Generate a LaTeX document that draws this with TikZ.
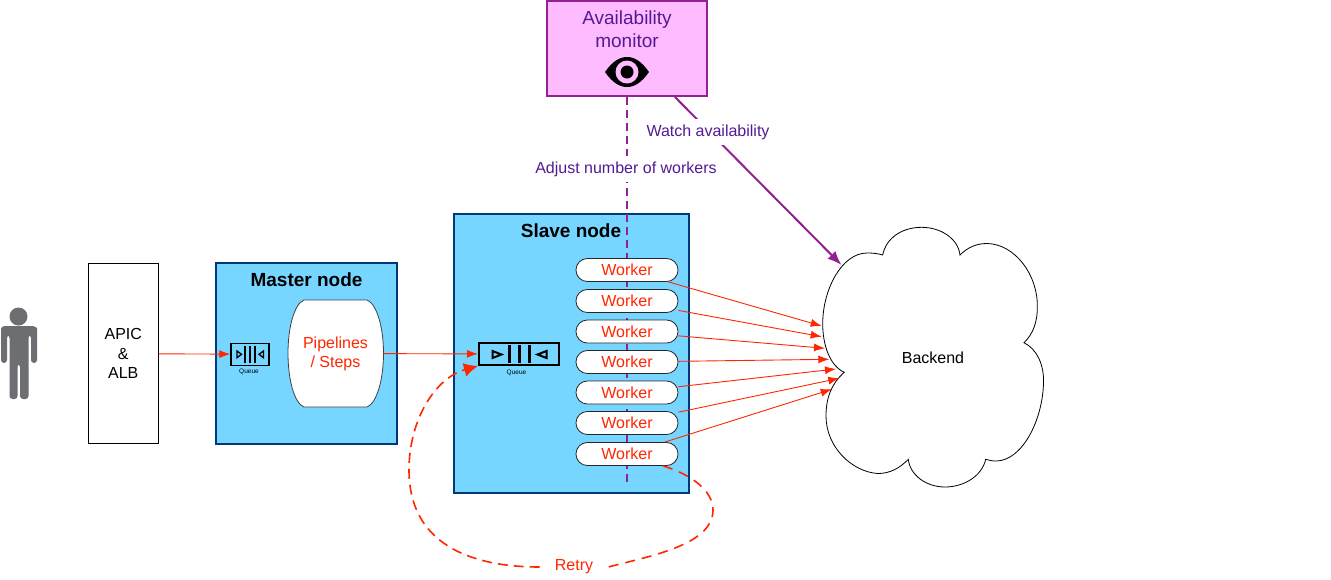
\documentclass[tikz,border=0pt]{standalone}
\usepackage{fontspec}
\setmainfont{Liberation Sans}
\usetikzlibrary{arrows.meta}
\definecolor{redline}{HTML}{FF2600}
\definecolor{purpline}{HTML}{942192}
\definecolor{purptext}{HTML}{531B93}
\definecolor{pinkfill}{HTML}{FFBBFF}
\definecolor{skyfill}{HTML}{76D6FF}
\definecolor{navyline}{HTML}{00387A}
\definecolor{persongray}{HTML}{6D6E71}
\tikzset{
  x=1pt,y=-1pt,
  bluebox/.style={draw=navyline,fill=skyfill,line width=1.6pt,inner sep=0pt},
  plainbox/.style={draw=black,fill=white,line width=0.9pt,inner sep=0pt,align=center,font=\fontsize{16}{19.5}\selectfont},
  workerpill/.style={draw=black!85,fill=white,line width=0.8pt,rounded corners=11.4pt,minimum width=102pt,minimum height=23pt,inner sep=0pt,text=redline,font=\fontsize{16}{18}\selectfont},
  queuebox/.style={draw=black,inner sep=0pt},
  boxtitle/.style={font=\bfseries\fontsize{19}{22}\selectfont,inner sep=0pt},
  qlabel/.style={font=\fontsize{6.5}{8}\selectfont,text=black,inner sep=0pt},
  redarrow/.style={draw=redline,line width=0.9pt,-{Latex[length=11pt,width=8pt]}},
  purplabel/.style={fill=white,text=purptext,font=\fontsize{16}{19}\selectfont,inner xsep=1pt,inner ysep=6pt},
}
\begin{document}
\begin{tikzpicture}
\useasboundingbox (0,0) rectangle (1331,579);
\fill[white] (0,0) rectangle (1331,579);

% person
\fill[persongray] (18.5,316.5) circle (9);
\fill[persongray,rounded corners=3pt] (1,363) -- (1,331) .. controls (1,328) and (4,326) .. (7,326) -- (30,326) .. controls (34,326) and (37,328) .. (37,331) -- (37,363) -- (31,363) -- (31,335) -- (28.5,335) -- (28.5,399) -- (20,399) -- (20,364) -- (17.5,364) -- (17.5,399) -- (9.5,399) -- (9.5,335) -- (7,335) -- (7,363) -- cycle;

% boxes
\node[plainbox,minimum width=69.5pt,minimum height=180pt] (apic) at (123.3,353.7) {\raisebox{-1pt}{APIC}\\\raisebox{-1pt}{\&}\\\raisebox{-1pt}{ALB}};
\node[bluebox,minimum width=181pt,minimum height=181pt] (master) at (306.5,353.5) {};
\node[boxtitle] (mastertitle) at (306.5,279.5) {Master node};
\node[bluebox,minimum width=235pt,minimum height=279pt] (slave) at (571.5,353.5) {};
\node[boxtitle] (slavetitle) at (571,230.5) {Slave node};

% pipelines
\draw[fill=white,draw=black!75,line width=0.8pt] (304,300) -- (367,300) .. controls (377,304) and (383.5,328) .. (383.5,353) .. controls (383.5,379) and (377,403) .. (367,407) -- (304,407) .. controls (294,403) and (288,379) .. (288,353) .. controls (288,328) and (294,304) .. (304,300) -- cycle;
\node[text=redline,align=center,inner sep=0pt,minimum width=96pt,minimum height=107pt,font=\fontsize{16}{19}\selectfont] (pipe) at (335.5,353.5) {\raisebox{-1pt}{Pipelines}\\\raisebox{-1pt}{/ Steps}};

% queues
\node[queuebox,line width=1.4pt,minimum width=38pt,minimum height=22pt] (q1) at (250,354.2) {};
\foreach \bx in {245,250,255} \draw[black,line width=1.3pt] (\bx,345.5) -- (\bx,362.5);
\draw[black,line width=1.3pt] (237,351) -- (241.5,354.3) -- (237,357.7) -- cycle;
\draw[black,line width=1.3pt] (263.5,351) -- (259,354.3) -- (263.5,357.7) -- cycle;
\node[qlabel] (q1label) at (249,372) {Queue};

\node[queuebox,line width=2pt,minimum width=80pt,minimum height=22pt] (q2) at (519,354) {};
\foreach \bx in {509,519,529} \draw[black,line width=3pt] (\bx,345) -- (\bx,362.7);
\draw[black,line width=2pt] (492.5,351) -- (501.5,354.5) -- (492.5,358) -- cycle;
\draw[black,line width=2pt] (546.5,351) -- (537.5,354.5) -- (546.5,358) -- cycle;
\node[qlabel] (q2label) at (516.5,372.5) {Queue};

% monitor
\node[draw=purpline,fill=pinkfill,line width=1.6pt,minimum width=160pt,minimum height=95pt,inner sep=0pt] (mon) at (627,48.5) {};
\node[text=purptext,align=center,inner sep=0pt,font=\fontsize{19}{23}\selectfont] (montext) at (627,29.2) {Availability\\monitor};
\fill[black] (605,72) .. controls (612,62) and (619,57) .. (627,57) .. controls (635,57) and (642,62) .. (649,72) .. controls (642,82) and (635,87) .. (627,87) .. controls (619,87) and (612,82) .. (605,72) -- cycle;
\fill[pinkfill] (627,72) circle (11.5);
\fill[black] (627,72) circle (6.5);

% cloud
\draw[fill=white,draw=black,line width=0.8pt]
 (882.7,255) .. controls (886,238) and (902,227.3) .. (921.7,227.3)
 .. controls (940,227.3) and (958,238) .. (960,255)
 .. controls (968,247) and (977,243.5) .. (987,243.5)
 .. controls (1015,244) and (1038,275) .. (1037.3,307)
 .. controls (1037.5,322) and (1033,334) .. (1024,342.7)
 .. controls (1037,349) and (1044,365) .. (1043.5,382)
 .. controls (1043,420) and (1022,461) .. (996,461)
 .. controls (993,461) and (989,460.5) .. (985.7,459.3)
 .. controls (982,476) and (964,487) .. (945,487)
 .. controls (926,487) and (910,475) .. (908.3,459.3)
 .. controls (900,468) and (890,473.5) .. (878,473.5)
 .. controls (852,472) and (826,447) .. (826,416)
 .. controls (826,397) and (832,383) .. (844.3,372.3)
 .. controls (830,366) and (822.5,345) .. (822.7,323)
 .. controls (823,289) and (842,253) .. (867,253)
 .. controls (873,253) and (878,253.5) .. (882.7,255) -- cycle;
\node[inner sep=0pt,font=\fontsize{16}{19}\selectfont] (backend) at (933,357.5) {Backend};

\coordinate (c1) at (821.7,326);
\coordinate (c2) at (821.7,336.7);
\coordinate (c3) at (825,348.3);
\coordinate (c4) at (829.3,359.3);
\coordinate (c5) at (836,369);
\coordinate (c6) at (839.3,378.3);
\coordinate (c7) at (831.7,389.3);
\coordinate (cloudtop) at (841.5,265);
\coordinate (dashend) at (627,485);

% dashed and watch connectors
\draw[draw=purpline,line width=1.7pt,dash pattern=on 8pt off 5pt] (mon.south) -- (dashend);
\draw[draw=purpline,line width=2pt,-{Latex[length=14pt,width=11pt]}] (mon) -- (cloudtop);
\node[purplabel] (watch) at (708,132) {Watch availability};
\node[purplabel] (adjust) at (626,169) {Adjust number of workers};

% workers
\foreach \wi/\wy in {1/270,2/301,3/331.5,4/362,5/392.5,6/423,7/454}
  \node[workerpill] (w\wi) at (627,\wy) {\raisebox{-1pt}{Worker}};
\foreach \wi in {1,...,7}
  \draw[redarrow] (w\wi) -- (c\wi);

% other connectors
\draw[redarrow] (apic) -- (q1);
\draw[redarrow] (pipe) -- (q2);
\node[fill=white,text=redline,inner xsep=15pt,inner ysep=3pt,font=\fontsize{16}{19}\selectfont] (retry) at (574,567) {Retry};
\draw[draw=redline,line width=1.6pt,dash pattern=on 10pt off 7pt]
 ([xshift=36pt]w7.south) .. controls (690,474) and (713,490) .. (713,510)
 .. controls (713,545) and (650,556) .. (retry.east);
\draw[draw=redline,line width=1.6pt,dash pattern=on 10pt off 6pt,-{Latex[length=14pt,width=14pt]}]
 (retry.west) .. controls (500,567) and (409,560) .. (409,470)
 .. controls (409,420) and (435,378) .. (q2.south west);
\end{tikzpicture}
\end{document}
